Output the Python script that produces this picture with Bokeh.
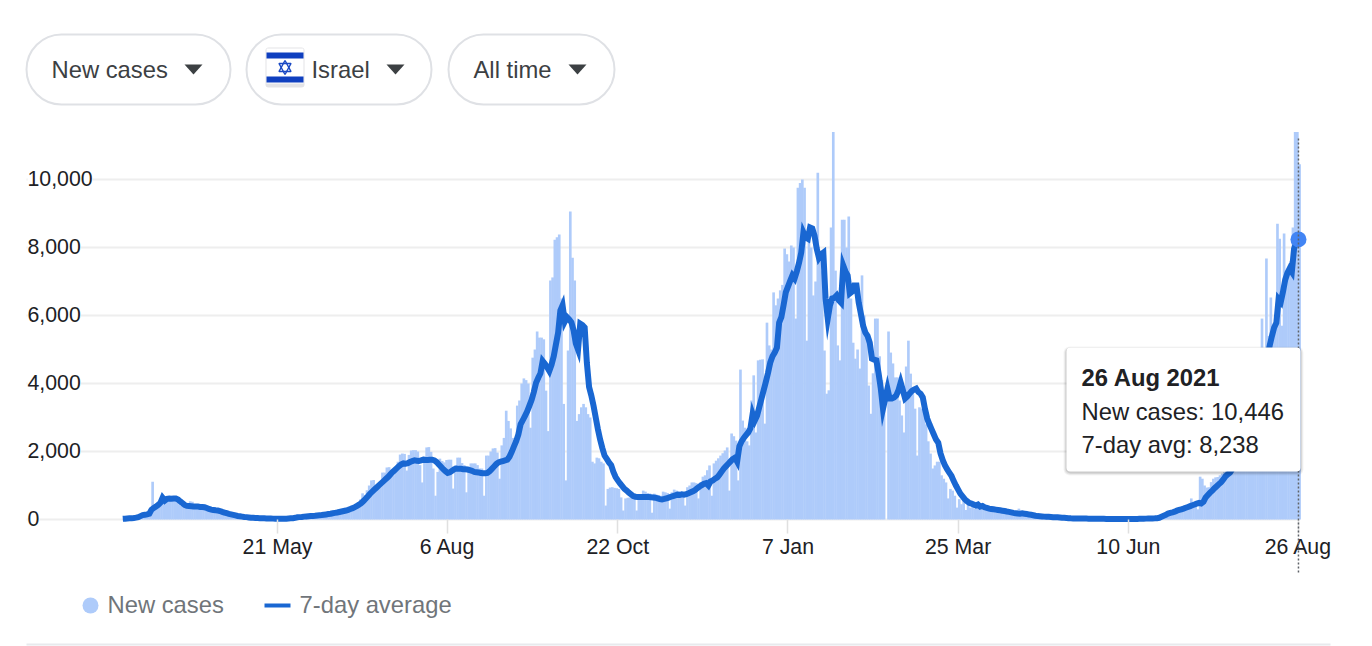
from bokeh.core.properties import value
from bokeh.embed import file_html
from bokeh.models import (Arrow, BoxAnnotation, ColumnDataSource, FixedTicker, Label, LabelSet,
                          PolyAnnotation)
from bokeh.plotting import figure
from bokeh.resources import INLINE

# daily values from 12 Mar 2020 to 26 Aug 2021
new_cases = [
    20, 30, 30, 40, 50, 60, 120, 150, 130,
    180, 170, 150, 250, 1110, 380, 420, 480, 630, 620,
    610, 620, 600, 590, 620, 600, 450, 400, 470, 450,
    420, 540, 520, 430, 380, 360, 340, 400, 300, 320,
    280, 260, 300, 260, 230, 200, 190, 170, 150, 140,
    120, 110, 100, 95, 80, 70, 65, 60, 50, 45,
    40, 35, 35, 30, 30, 25, 25, 22, 20, 18,
    18, 16, 20, 24, 30, 40, 40, 50, 60, 80,
    90, 95, 100, 105, 125, 130, 145, 130, 165, 180,
    125, 155, 175, 170, 200, 210, 230, 220, 240, 250,
    240, 290, 320, 360, 400, 430, 460, 500, 590, 770,
    720, 860, 1000, 1150, 1160, 830, 1000, 1090, 1380, 1380,
    1530, 1540, 1250, 1300, 1500, 1700, 1910, 1940, 1930, 1440,
    1900, 2030, 2040, 2040, 2000, 1600, 1090, 1850, 2120, 2130,
    1990, 1500, 700, 1400, 1790, 1720, 1680, 1750, 1760, 1760,
    910, 1600, 1820, 1820, 1660, 1600, 800, 1400, 1650, 1650,
    1650, 1600, 1500, 1500, 700, 1880, 1880, 2000, 2090, 2100,
    1970, 1200, 2180, 2400, 3200, 2900, 2680, 2400, 2240, 3350,
    3500, 4000, 4150, 4100, 4000, 2700, 4760, 5000, 5530, 5350,
    5350, 5300, 3790, 2600, 7030, 7120, 8230, 8300, 8380, 6500,
    3400, 1150, 4970, 9060, 7700, 7030, 2900, 3100, 3300, 3400,
    3300, 3100, 3000, 1700, 1650, 1820, 1800, 1700, 1650, 410,
    900, 940, 950, 930, 920, 900, 650, 265, 620, 640,
    650, 640, 630, 265, 650, 700, 850, 820, 780, 765,
    200, 760, 730, 720, 700, 820, 800, 780, 320, 800,
    880, 850, 830, 820, 800, 410, 950, 1000, 1090, 1090,
    1070, 620, 1100, 1260, 1300, 1450, 1590, 700, 1650, 1730,
    1800, 1880, 1950, 2030, 2120, 850, 2530, 2450, 2320, 1150,
    4410, 2910, 2700, 2300, 2180, 3500, 4240, 2560, 4680, 4700,
    4710, 2820, 5790, 5120, 5000, 6680, 6300, 6500, 6740, 6900,
    7970, 7800, 7590, 8060, 8000, 5910, 9760, 9900, 10000, 9760,
    5260, 8200, 8000, 6590, 7000, 10200, 7900, 7300, 4970, 3700,
    3800, 8590, 11400, 7320, 5120, 4680, 8820, 8820, 8000, 8910,
    6500, 5200, 4730, 5000, 4440, 7180, 6000, 5500, 3940, 3110,
    4300, 5910, 5910, 4800, 4100, 3800, 0, 5530, 4910, 4590,
    4180, 4180, 3500, 3060, 2560, 4500, 5260, 4290, 3800, 3260,
    1880, 3300, 3260, 3260, 2800, 2300, 1940, 1500, 1590, 1700,
    1700, 1300, 1200, 1090, 620, 900, 850, 700, 350, 600,
    450, 560, 280, 600, 350, 480, 320, 430, 450, 290,
    320, 360, 350, 250, 310, 280, 250, 290, 260, 230,
    240, 220, 160, 190, 180, 170, 320, 190, 160, 170,
    160, 130, 120, 110, 90, 95, 90, 80, 80, 75,
    70, 65, 70, 60, 55, 50, 45, 40, 35, 30,
    28, 30, 28, 25, 25, 22, 22, 20, 20, 18,
    16, 16, 18, 15, 14, 14, 14, 12, 12, 10,
    10, 12, 10, 12, 14, 12, 18, 16, 20, 14,
    18, 22, 25, 24, 28, 32, 30, 40, 50, 55,
    90, 120, 150, 190, 170, 210, 230, 270, 300, 330,
    310, 340, 370, 430, 620, 520, 490, 300, 1260, 1200,
    1000, 940, 950, 1100, 1200, 1240, 1250, 1300, 1350, 1400,
    1500, 1550, 1600, 1650, 1800, 1900, 2100, 2200, 2400, 2600, 2800,
    3000, 3200, 3400, 3700, 3900, 5910, 4400, 7680, 5400, 6530,
    5500, 5600, 8700, 8260, 5700, 8410, 7200, 7400, 7600, 8590,
    11400, 11400, 10446,
]
seven_day_avg = [
    20, 25, 30, 35, 40, 45, 55, 70, 100, 130,
    140, 150, 170, 290, 340, 380, 430, 490, 640, 560,
    610, 620, 610, 620, 620, 590, 530, 480, 430, 400,
    395, 390, 385, 380, 380, 370, 370, 360, 340, 310,
    290, 280, 270, 265, 250, 225, 205, 185, 165, 150,
    135, 120, 105, 95, 85, 75, 70, 62, 55, 50,
    45, 42, 40, 38, 35, 32, 30, 28, 26, 25,
    22, 20, 20, 22, 25, 30, 35, 40, 50, 65,
    70, 75, 85, 90, 95, 100, 105, 110, 120, 125,
    130, 140, 150, 160, 170, 185, 195, 205, 220, 235,
    250, 265, 285, 310, 335, 365, 400, 440, 490, 550,
    620, 690, 765, 830, 890, 950, 1010, 1070, 1130, 1190,
    1250, 1320, 1390, 1450, 1510, 1570, 1620, 1650, 1640, 1660,
    1690, 1720, 1740, 1730, 1720, 1740, 1760, 1750, 1750, 1760,
    1760, 1740, 1690, 1620, 1550, 1480, 1420, 1370, 1390, 1430,
    1480, 1500, 1490, 1490, 1480, 1480, 1470, 1450, 1430, 1400,
    1390, 1380, 1370, 1360, 1360, 1370, 1420, 1490, 1560, 1630,
    1680, 1700, 1720, 1740, 1760, 1850, 1990, 2150, 2300, 2500,
    2800, 2920, 3050, 3180, 3350, 3520, 3750, 4020, 4170, 4300,
    4660, 4580, 4480, 4370, 4550, 4800, 5150, 5500, 6150, 6300,
    5820, 5950, 5880, 5800, 5560, 5180, 5000, 5760, 5720, 5650,
    4600, 3900, 3650, 3350, 3000, 2650, 2350, 2100, 1880, 1780,
    1680, 1600, 1400, 1250, 1150, 1060, 980, 900, 850, 790,
    740, 690, 670, 660, 660, 665, 665, 660, 660, 655,
    650, 640, 620, 600, 590, 605, 625, 645, 670, 690,
    710, 730, 720, 740, 730, 745, 770, 800, 830, 870,
    920, 970, 1010, 1050, 1070, 1000, 1120, 1150, 1200, 1240,
    1320, 1410, 1500, 1570, 1640, 1710, 1780, 1820, 1700, 2150,
    2300, 2400, 2480, 2560, 2680, 3100, 2910, 3050, 3300, 3550,
    3800, 4050, 4320, 4620, 4800, 4910, 5050, 5790, 5950, 6300,
    6680, 6850, 7020, 7180, 7090, 7300, 7550, 7850, 8440, 8300,
    8260, 8590, 8560, 8350, 7970, 7700, 7800, 7850, 6500, 5910,
    6300, 6500, 6520, 6590, 6450, 6380, 7470, 7300, 7180, 6650,
    6700, 6880, 6880, 6380, 6050, 5700, 5500, 5400, 5200, 4730,
    4700, 4680, 4300, 3850, 3260, 3550, 3850, 3560, 3560, 3590,
    3650, 3800, 4030, 3800, 3560, 3620, 3700, 3780, 3820, 3850,
    3750, 3700, 3590, 3250, 2970, 2800, 2650, 2500, 2350, 2260,
    1950, 1750, 1600, 1480, 1380, 1280, 1130, 1000, 880, 760,
    680, 600, 540, 490, 470, 440, 410, 440, 380, 400,
    360, 340, 320, 310, 300, 290, 280, 270, 260, 250,
    235, 225, 210, 195, 185, 175, 170, 180, 170, 160,
    150, 140, 125, 110, 100, 95, 90, 85, 80, 78,
    75, 70, 68, 65, 60, 55, 50, 45, 40, 35,
    33, 32, 32, 30, 30, 28, 27, 26, 25, 24,
    22, 22, 21, 20, 20, 18, 18, 16, 16, 15,
    14, 14, 13, 13, 14, 14, 15, 15, 16, 18,
    20, 22, 24, 26, 28, 30, 32, 35, 40, 50,
    80, 110, 135, 175, 195, 210, 230, 260, 280, 300,
    320, 345, 370, 395, 420, 440, 470, 490, 470, 520,
    650, 720, 790, 850, 920, 980, 1040, 1100, 1180, 1270,
    1330, 1380, 1480, 1600, 1740, 1880, 2050, 2230, 2420, 2640,
    2880, 3120, 3360, 3600, 3850, 4080, 4300, 4550, 4800, 5120,
    5400, 5650, 5790, 6480, 6400, 6700, 7050, 7250, 7380, 7280,
    7960, 8150, 8238,
]
x_tick_days = [70, 147, 224, 301, 378, 455, 532]
x_tick_labels = ["21 May", "6 Aug", "22 Oct", "7 Jan", "25 Mar", "10 Jun", "26 Aug"]
y_ticks = [0, 2000, 4000, 6000, 8000, 10000]
y_tick_labels = ["0", "2,000", "4,000", "6,000", "8,000", "10,000"]

days = list(range(len(new_cases)))

# the frame fills the whole page, annotations outside it get clipped in the svg output
p = figure(width=1372, height=646, output_backend="svg", toolbar_location=None,
           x_range=(-55.34, 565.5), y_range=(-3735, 15265),
           min_border_left=0, min_border_right=0, min_border_top=0, min_border_bottom=0,
           outline_line_color=None)
p.grid.visible = False
p.yaxis.visible = False

ax = p.xaxis[0]
ax.fixed_location = 0
ax.ticker = FixedTicker(ticks=x_tick_days)
ax.major_label_overrides = dict(zip(x_tick_days, x_tick_labels))
ax.axis_line_color = None
ax.minor_tick_line_color = None
ax.major_tick_line_color = "#e0e0e0"
ax.major_tick_line_width = 1.5
ax.major_tick_in = 0
ax.major_tick_out = 14
ax.major_label_standoff = 1
ax.major_label_text_font = "Liberation Sans"
ax.major_label_text_font_size = "21.3px"
ax.major_label_text_color = "#202124"

# grid stops at the last day, label boxes hide its left part
grid_left = -43.57
p.segment(x0=[grid_left] * len(y_ticks), y0=y_ticks, x1=[days[-1]] * len(y_ticks), y1=y_ticks,
          line_color="#eeeeee", line_width=2)
p.vbar(x=[d + 0.5 for d in days], top=new_cases, width=1.2, fill_color="#aecbfa", line_color=None)
p.line(days, seven_day_avg, line_color="#1967d2", line_width=6, line_join="miter")

y_src = ColumnDataSource(dict(x=[grid_left] * len(y_ticks), y=y_ticks, text=y_tick_labels))
p.add_layout(LabelSet(x="x", y="y", text="text", source=y_src, x_offset=1, y_offset=1,
                      text_align="left", text_baseline="middle",
                      text_font=value("Liberation Sans"), text_font_size="21.3px",
                      text_color="#202124", background_fill_color="white"))

p.add_layout(Arrow(x_start=days[-1], x_end=days[-1], y_start=11206, y_end=-1559, end=None,
                   line_color="#5f6368", line_width=1.5, line_dash=[2, 2]))
p.circle(x=[days[-1]], y=[seven_day_avg[-1]], radius=8, radius_units="screen",
         fill_color="#4285f4", line_color=None)


def box(left, right, top, bottom, fill="white", line=None, radius=0, alpha=1.0, width=2):
    p.add_layout(BoxAnnotation(left=left, right=right, top=top, bottom=bottom,
                               left_units="canvas", right_units="canvas",
                               top_units="canvas", bottom_units="canvas",
                               fill_color=fill, fill_alpha=alpha,
                               line_color=line, line_alpha=1, line_width=width,
                               border_radius=radius))


def text(x, y, s, size="23.8px", color="#3c4043", style="normal"):
    p.add_layout(Label(x=x - 1, y=y - 1, text=s, x_units="canvas", y_units="canvas",
                       text_font="Liberation Sans", text_font_size=size, text_color=color,
                       text_font_style=style, text_baseline="middle"))


def poly(xs, ys, fill=None, line=None, width=1.0):
    p.add_layout(PolyAnnotation(xs=xs, ys=ys, xs_units="canvas", ys_units="canvas",
                                fill_color=fill, fill_alpha=1 if fill else 0,
                                line_color=line, line_alpha=1, line_width=width))


# selector chips
box(26, 230, 34, 104, line="#dfe1e5", radius=35)
text(52, 70, "New cases")
poly([184, 202, 193], [64, 64, 74], fill="#3c4043")

box(246, 431, 34, 104, line="#dfe1e5", radius=35)
box(265, 304, 47, 87, fill="#e3e3e6", radius=3)
box(266, 303, 48, 83, fill="white")
box(266, 303, 52, 58, fill="#0f3fbf")
box(266, 303, 76, 82, fill="#0f3fbf")
poly([284.5, 290.5, 278.5], [60, 71, 71], line="#1a49c4", width=1.5)
poly([284.5, 290.5, 278.5], [74, 63, 63], line="#1a49c4", width=1.5)
text(312, 70, "Israel")
poly([386, 404, 395], [64, 64, 74], fill="#3c4043")

box(448, 614, 34, 104, line="#dfe1e5", radius=35)
text(474, 70, "All time")
poly([568, 586, 577], [64, 64, 74], fill="#3c4043")

# tooltip, the stacked boxes stand in for its shadow
box(1063, 1303, 346, 475, fill="black", radius=6, alpha=0.04)
box(1064, 1302, 347, 474, fill="black", radius=5, alpha=0.07)
box(1065, 1301, 347, 473, fill="black", radius=5, alpha=0.10)
box(1066, 1300, 347, 471, radius=4)
text(1082, 378, "26 Aug 2021", color="#202124", style="bold")
text(1082, 412, "New cases: 10,446", color="#202124")
text(1082, 445, "7-day avg: 8,238", color="#202124")

# legend
box(82, 98, 597, 613, fill="#aecbfa", radius=8)
text(108, 605, "New cases", color="#70757a")
box(264, 290, 603, 607, fill="#1967d2")
text(300, 605, "7-day average", color="#70757a")

# bottom rule
box(26, 1330, 643, 645, fill="#e8eaed")

open("out.html", "w").write(file_html(p, INLINE))
